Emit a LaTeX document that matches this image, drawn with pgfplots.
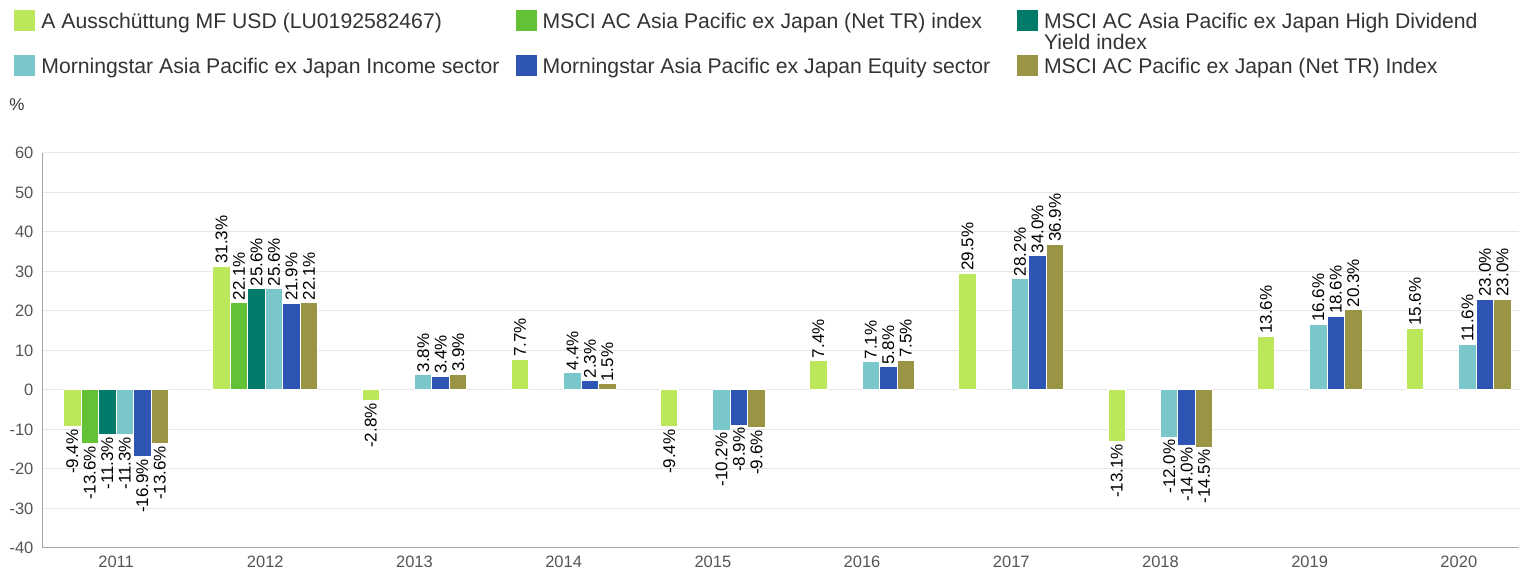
\documentclass[border=0pt]{standalone}
\usepackage{fontspec}
\setmainfont{Liberation Sans}
\usepackage{graphicx}
\usepackage{pgfplots}
\pgfplotsset{compat=1.18}
\definecolor{c1}{HTML}{BDE75B}
\definecolor{c2}{HTML}{62C134}
\definecolor{c3}{HTML}{007B6A}
\definecolor{c4}{HTML}{7AC7CB}
\definecolor{c5}{HTML}{2E55B3}
\definecolor{c6}{HTML}{999545}
\definecolor{gridc}{HTML}{E6E6E6}
\definecolor{tickc}{HTML}{555555}
\definecolor{legc}{HTML}{333333}
\newcommand{\fs}[1]{\fontsize{#1pt}{#1pt}\selectfont}
\newcommand{\lt}[1]{\makebox[240.25pt][l]{\hspace{3pt}#1}}
\newcommand{\ltb}[1]{\makebox[240.25pt][l]{\rule{0pt}{21pt}\hspace{3pt}#1}}
\begin{document}
\begin{tikzpicture}
\begin{axis}[
  name=ax,
  scale only axis,
  width=738pt, height=197.5pt,
  xmin=-0.49, xmax=9.4,
  ymin=-40, ymax=60,
  ytick={-40,-30,...,60},
  xtick={0,...,9},
  xticklabels={2011,2012,2013,2014,2015,2016,2017,2018,2019,2020},
  major tick length=0pt,
  axis x line*=bottom, axis y line*=left,
  axis line style={draw=black!35, line width=0.5pt, -},
  ymajorgrids, grid style={gridc, line width=0.5pt},
  tick label style={font=\fs{8.25}, text=tickc},
  /pgf/number format/assume math mode=true,
  yticklabel style={xshift=-1.25pt},
  xticklabel style={yshift=-0.75pt},
  ylabel={\%},
  ylabel style={rotate=-90, at={(axis description cs:0,1)}, anchor=center, xshift=-13pt, yshift=24pt, font=\fs{8.5}, text=legc},
  ybar, bar width=0.1172,
  every axis plot/.append style={draw=white, line width=0.5pt},
  nodes near coords={\rotatebox{90}{\pgfmathprintnumber[fixed,fixed zerofill,precision=1,assume math mode=true]{\pgfplotspointmeta}\%}},
  nodes near coords style={font=\fs{8.5}, text=black, inner sep=1pt},
  legend columns=3,
  legend style={at={(0,1)}, anchor=north west, xshift=-14.5pt, yshift=71.85pt, draw=none, fill=none, inner sep=0pt, column sep=0pt, row sep=0.15pt, font=\fs{10.6}, text=legc, cells={anchor=base west}, nodes={inner sep=0pt}},
  legend image code/.code={\fill[#1, draw=none] (0pt,-1pt) rectangle (10.5pt,9.5pt);},
]
\addplot[fill=c1, bar shift=-0.293] coordinates {(0,-9.4) (1,31.3) (2,-2.8) (3,7.7) (4,-9.4) (5,7.4) (6,29.5) (7,-13.1) (8,13.6) (9,15.6)};
\addlegendentry{\lt{A Ausschüttung MF USD (LU0192582467)}}
\addplot[fill=c2, bar shift=-0.1758] coordinates {(0,-13.6) (1,22.1)};
\addlegendentry{\lt{MSCI AC Asia Pacific ex Japan (Net TR) index}}
\addplot[fill=c3, bar shift=-0.0586] coordinates {(0,-11.3) (1,25.6)};
\addlegendentry{\hspace{3pt}\parbox[t]{237pt}{\fs{10.6}MSCI AC Asia Pacific ex Japan High Dividend\\Yield index}}
\addplot[fill=c4, bar shift=0.0586] coordinates {(0,-11.3) (1,25.6) (2,3.8) (3,4.4) (4,-10.2) (5,7.1) (6,28.2) (7,-12.0) (8,16.6) (9,11.6)};
\addlegendentry{\ltb{Morningstar Asia Pacific ex Japan Income sector}}
\addplot[fill=c5, bar shift=0.1758] coordinates {(0,-16.9) (1,21.9) (2,3.4) (3,2.3) (4,-8.9) (5,5.8) (6,34.0) (7,-14.0) (8,18.6) (9,23.0)};
\addlegendentry{\ltb{Morningstar Asia Pacific ex Japan Equity sector}}
\addplot[fill=c6, bar shift=0.293] coordinates {(0,-13.6) (1,22.1) (2,3.9) (3,1.5) (4,-9.6) (5,7.5) (6,36.9) (7,-14.5) (8,20.3) (9,23.0)};
\addlegendentry{\ltb{MSCI AC Pacific ex Japan (Net TR) Index}}
\end{axis}
\path (ax.south west) ++(-21.5pt,-11pt) rectangle ++(759.5pt,285pt);
\end{tikzpicture}
\end{document}
